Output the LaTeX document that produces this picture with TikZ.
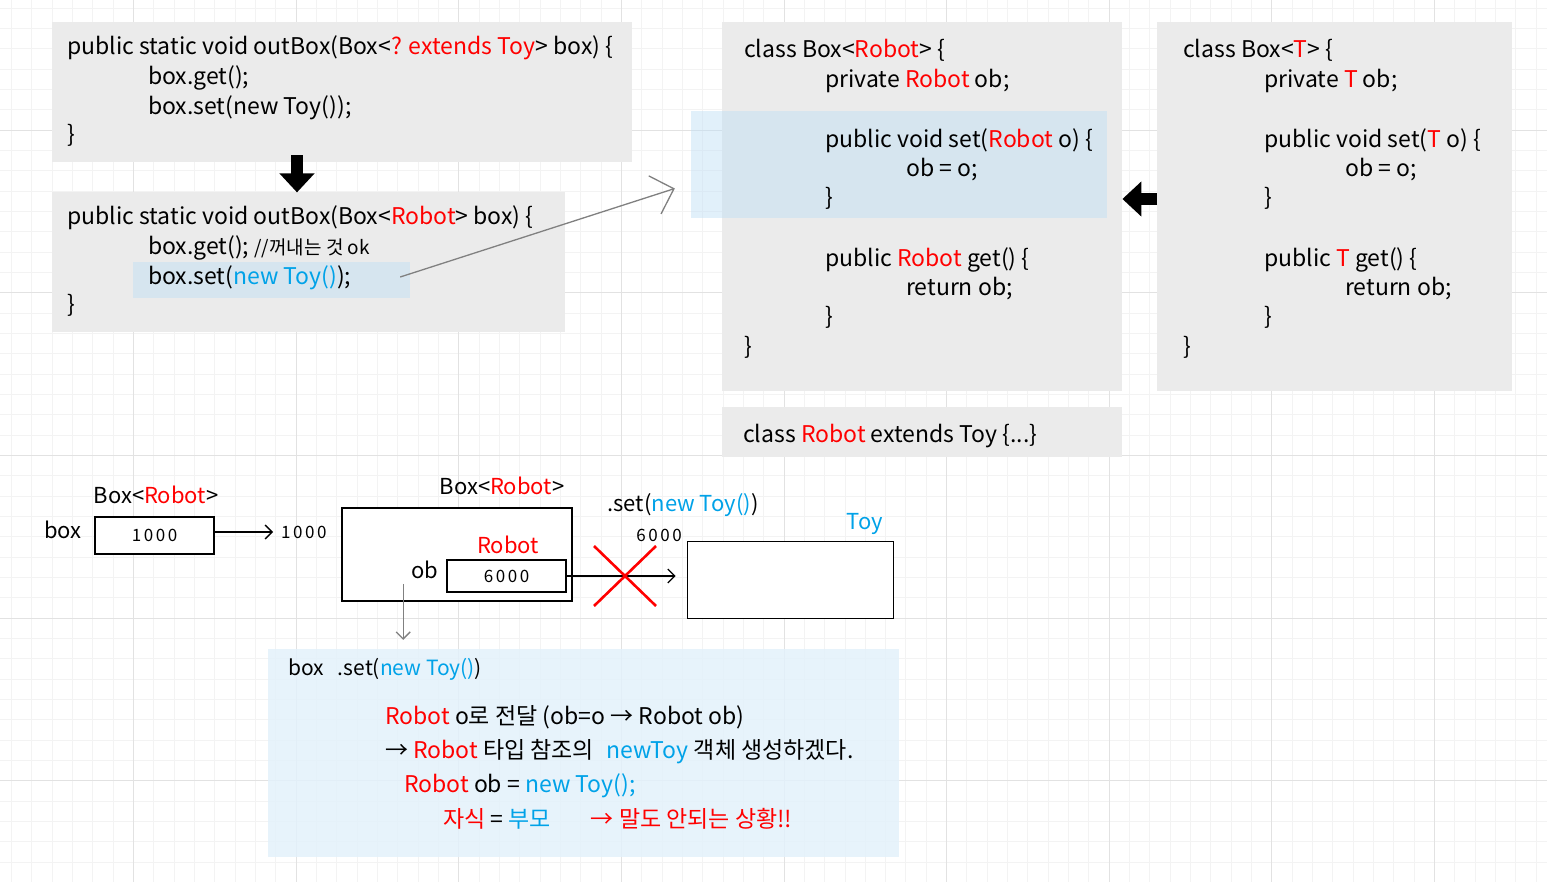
\documentclass[tikz,border=0pt]{standalone}
\usepackage{fontspec}
\setmainfont{Noto Sans CJK KR}
\newfontfamily\numfont[LetterSpace=15]{Noto Sans CJK KR}
\usetikzlibrary{positioning,calc}
\usetikzlibrary{arrows.meta}
\definecolor{boxgray}{RGB}{235,235,235}
\definecolor{hlblue}{RGB}{190,222,246}
\definecolor{noteblue}{RGB}{227,241,251}
\definecolor{jred}{RGB}{255,0,0}
\definecolor{jblue}{RGB}{0,162,232}
\definecolor{gridlo}{RGB}{243,243,243}
\definecolor{gridhi}{RGB}{226,226,226}
\newcommand{\rd}[1]{\textcolor{jred}{#1}}
\newcommand{\bl}[1]{\textcolor{jblue}{#1}}

\begin{document}
\begin{tikzpicture}[x=1pt,y=-1pt,
	  %style for code lines
	  cd/.style={anchor=west, inner sep=0pt, font=\fontsize{23}{23}\selectfont, text height=1.42em, text depth=0.03em},
	  %style for labels of the memory picture
	  lb/.style={inner sep=0pt, font=\fontsize{22}{22}\selectfont, text height=1.42em, text depth=0.03em},
	  %style for addresses
	  nb/.style={inner sep=0pt, font=\numfont\fontsize{17}{17}\selectfont},
	  %style for gray code boxes
	  gb/.style={rectangle, fill=boxgray, anchor=north west, inner sep=0pt},
	  %style for highlights
	  hl/.style={rectangle, fill=hlblue, fill opacity=0.45, inner sep=0pt},
	  %style for memory boxes
	  mb/.style={rectangle, draw=black, line width=1.6pt, fill=white, inner sep=0pt, font=\numfont\fontsize{17}{17}\selectfont},
	  %style for big black arrows
	  blk/.style={line width=12pt, -{Triangle[length=19pt,width=34pt]}},
	  %style for pointer arrows
	  arrw/.style={line width=1.3pt, -{Straight Barb[length=7pt,width=14pt]}},
	  %style for gray arrows
	  garrw/.style={draw=gray, line width=1.3pt, -{Straight Barb[length=7pt,width=14pt]}}]

	  \useasboundingbox (0,0) rectangle (1547,882);
	  \fill[white] (0,0) rectangle (1547,882);
	  %grid
	  \foreach \i in {0,...,78} \draw[gridlo, line width=0.8pt] ({-29.3+20.33*\i},0) -- ++(0,882);
	  \foreach \i in {0,...,45} \draw[gridlo, line width=0.8pt] (0,{-32.5+20.33*\i}) -- ++(1547,0);
	  \foreach \i in {0,...,10} \draw[gridhi, line width=0.8pt] ({-29.3+162.64*\i},0) -- ++(0,882);
	  \foreach \i in {0,...,6} \draw[gridhi, line width=0.8pt] (0,{-32.5+162.64*\i}) -- ++(1547,0);

	  %code boxes
	  \node[gb, minimum width=580pt, minimum height=140pt] (boxA) at (52,22) {};
	  \node[gb, minimum width=513pt, minimum height=140pt] (boxB) at (52,192) {};
	  \node[gb, minimum width=400pt, minimum height=369pt] (boxC) at (722,22) {};
	  \node[gb, minimum width=355pt, minimum height=369pt] (boxD) at (1157,22) {};
	  \node[gb, minimum width=400pt, minimum height=50pt] (boxE) at (722,407) {};
	  \node[hl, minimum width=277pt, minimum height=36pt] (hlB) at (271.5,280) {};
	  \node[hl, minimum width=416pt, minimum height=107pt] (hlC) at (899,164.5) {};

	  \node[cd] (a1) at (67,48) {public static void outBox(Box<\rd{? extends Toy}> box) \{};
	  \node[cd] (a2) at (148,78) {box.get();};
	  \node[cd] (a3) at (148,108) {box.set(new Toy());};
	  \node[cd] (a4) at (67,136) {\}};

	  \node[cd] (b1) at (67,218) {public static void outBox(Box<\rd{Robot}> box) \{};
	  \node[cd] (b2) at (148,248) {box.get(); {\fontsize{19}{19}\selectfont //꺼내는 것 ok}};
	  \node[cd] (b3) at (148,278) {box.set(\bl{new Toy()});};
	  \node[cd] (b4) at (67,306) {\}};

	  \node[cd] (c1) at (744,51) {class Box<\rd{Robot}> \{};
	  \node[cd] (c2) at (825,81) {private \rd{Robot} ob;};
	  \node[cd] (c3) at (825,141) {public void set(\rd{Robot} o) \{};
	  \node[cd] (c4) at (906,170) {ob = o;};
	  \node[cd] (c5) at (825,199) {\}};
	  \node[cd] (c6) at (825,260) {public \rd{Robot} get() \{};
	  \node[cd] (c7) at (906,289) {return ob;};
	  \node[cd] (c8) at (825,318) {\}};
	  \node[cd] (c9) at (744,348) {\}};

	  \node[cd] (d1) at (1183,51) {class Box<\rd{T}> \{};
	  \node[cd] (d2) at (1264,81) {private \rd{T} ob;};
	  \node[cd] (d3) at (1264,141) {public void set(\rd{T} o) \{};
	  \node[cd] (d4) at (1345,170) {ob = o;};
	  \node[cd] (d5) at (1264,199) {\}};
	  \node[cd] (d6) at (1264,260) {public \rd{T} get() \{};
	  \node[cd] (d7) at (1345,289) {return ob;};
	  \node[cd] (d8) at (1264,318) {\}};
	  \node[cd] (d9) at (1183,348) {\}};

	  \node[cd] (e1) at (743,436) {class \rd{Robot} extends Toy \{...\}};

	  %memory picture
	  \node[lb] (boxtype) at (156,497) {Box<\rd{Robot}>};
	  \node[lb] (boxvar) at (63,532) {box};
	  \node[mb, minimum width=119pt, minimum height=37pt] (ref1000) at (154.5,535.5) {1000};
	  \node[nb, anchor=west] (adr1000) at (281,532) {1000};
	  \node[lb] (objtype) at (502,488) {Box<\rd{Robot}>};
	  \node[mb, minimum width=230pt, minimum height=93pt] (obj) at (457,554.5) {};
	  \node[lb] (robtype) at (508,547) {\rd{Robot}};
	  \node[lb] (obvar) at (425,572) {ob};
	  \node[mb, minimum width=119pt, minimum height=32pt] (ref6000) at (506.5,576) {6000};
	  \node[lb] (setcall) at (683,505) {.set(\bl{new Toy()})};
	  \node[nb] (adr6000) at (659,535) {6000};
	  \node[lb] (toytype) at (865,523) {\bl{Toy}};
	  \node[mb, minimum width=206pt, minimum height=77pt] (toy) at (790.5,580) {};
	  \coordinate (obdown) at ($(obj.south west)+(62,-18)$);

	  %note
	  \node[rectangle, fill=noteblue, fill opacity=0.85, inner sep=0pt, minimum width=631pt, minimum height=208pt] (note) at (583.5,753) {};
	  \node[cd, font=\fontsize{21}{21}\selectfont] (n1) at (288,669) {box\hspace{14pt}.set(\bl{new Toy()})};
	  \node[cd] (n2) at (385,718) {\rd{Robot} o로 전달 (ob=o → Robot ob)};
	  \node[cd] (n3) at (385,752) {→ \rd{Robot} 타입 참조의\hspace{12pt}\bl{newToy} 객체 생성하겠다.};
	  \node[cd] (n4) at (404,786) {\rd{Robot} ob = \bl{new Toy();}};
	  \node[cd] (n5) at (443,821) {\rd{자식} = \bl{부모}\hspace{40pt}\rd{→ 말도 안되는 상황!!}};

	  %edges
	  \draw[blk] ($(boxA.south west)+(245,-7)$) -- ($(boxA.south west)+(245,30)$);
	  \draw[blk] (boxD.west |- c5) -- (boxC.east |- c5);
	  \draw[garrw, -{Straight Barb[length=20pt,width=40pt]}] ($(hlB.east)+(-10,-3)$) -- ($(hlC.west)+(-16,24)$);
	  \draw[arrw, shorten >=8pt] (ref1000.east |- adr1000.west) -- (adr1000.west);
	  \draw[arrw, shorten >=11pt] (ref6000.east) -- (ref6000.east -| toy.west);
	  \draw[red, line width=2.6pt] (594,546) -- (656,606) (656,546) -- (594,606);
	  \draw[garrw, shorten >=9pt] (obdown) -- (obdown |- note.north);
\end{tikzpicture}
\end{document}
